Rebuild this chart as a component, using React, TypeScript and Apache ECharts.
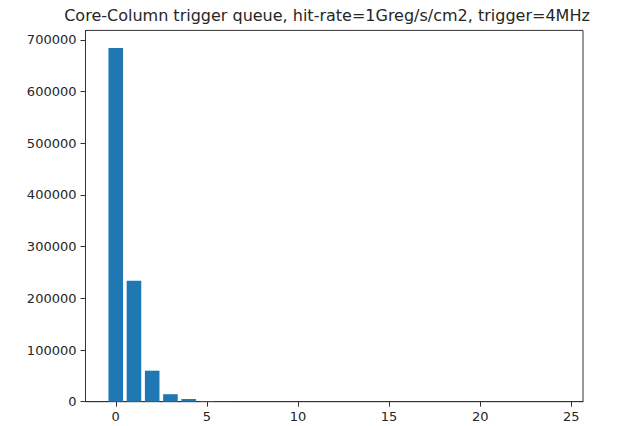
import React, { useEffect, useRef } from "react";
import * as echarts from "echarts";

const titleText = "Core-Column trigger queue, hit-rate=1Greg/s/cm2, trigger=4MHz";
const queueDepth = [0, 1, 2, 3, 4, 5, 6, 7, 8, 9, 10, 11, 12, 13, 14, 15, 16, 17, 18, 19, 20, 21, 22, 23, 24];
const counts = [684000, 234000, 60000, 14500, 5200, 1000, 200, 40, 8, 1, 0, 0, 0, 0, 0, 0, 0, 0, 0, 0, 0, 0, 0, 0, 0];
const xTicks = [0, 5, 10, 15, 20, 25];
const yTicks = [0, 100000, 200000, 300000, 400000, 500000, 600000, 700000];

export default function App() {
  const ref = useRef<HTMLDivElement>(null);
  useEffect(() => {
    if (!ref.current) return;
    const chart = echarts.init(ref.current, null, { renderer: "svg" });
    const font = "DejaVu Sans";
    const textColor = "#262626";
    const data = queueDepth.map((x, i) => [x, counts[i]]);
    chart.setOption({
      animation: false,
      backgroundColor: "#ffffff",
      grid: {
        left: 85.5,
        right: 47,
        top: 30.4,
        bottom: 24.3,
        show: true,
        borderColor: "#333333",
        borderWidth: 1,
        backgroundColor: "transparent",
      },
      graphic: [
        {
          type: "text",
          x: 327,
          y: 15,
          style: {
            text: titleText,
            textAlign: "center",
            textVerticalAlign: "middle",
            fontFamily: font,
            fontSize: 16,
            fill: textColor,
          },
        },
      ],
      xAxis: {
        type: "value",
        min: -1.66,
        max: 25.64,
        splitLine: { show: false },
        axisLine: { show: true, onZero: false, lineStyle: { color: "#333333", width: 1 } },
        axisTick: {
          show: true,
          length: 5,
          customValues: xTicks,
          lineStyle: { color: "#333333", width: 1 },
        },
        axisLabel: {
          customValues: xTicks,
          margin: 8,
          fontFamily: font,
          fontSize: 13,
          color: textColor,
          formatter: (v: number) => String(v),
        },
      },
      yAxis: {
        type: "value",
        min: 0,
        max: 718200,
        splitLine: { show: false },
        axisLine: { show: true, onZero: false, lineStyle: { color: "#333333", width: 1 } },
        axisTick: {
          show: true,
          length: 5,
          customValues: yTicks,
          lineStyle: { color: "#333333", width: 1 },
        },
        axisLabel: {
          customValues: yTicks,
          margin: 9,
          fontFamily: font,
          fontSize: 13,
          color: textColor,
          formatter: (v: number) => String(Math.round(v)),
        },
      },
      series: [
        {
          type: "custom",
          data,
          encode: { x: 0, y: 1 },
          renderItem: (params: any, api: any) => {
            const x = api.value(0);
            const y = api.value(1);
            const p0 = api.coord([x - 0.4, y]);
            const p1 = api.coord([x + 0.4, 0]);
            return {
              type: "rect",
              shape: { x: p0[0], y: p0[1], width: p1[0] - p0[0], height: p1[1] - p0[1] },
              style: { fill: "#1f77b4" },
            };
          },
        },
      ],
    });
    return () => chart.dispose();
  }, []);
  return (
    <div
      ref={ref}
      style={{ position: "absolute", left: 0, top: 0, width: 630, height: 426 }}
    />
  );
}
